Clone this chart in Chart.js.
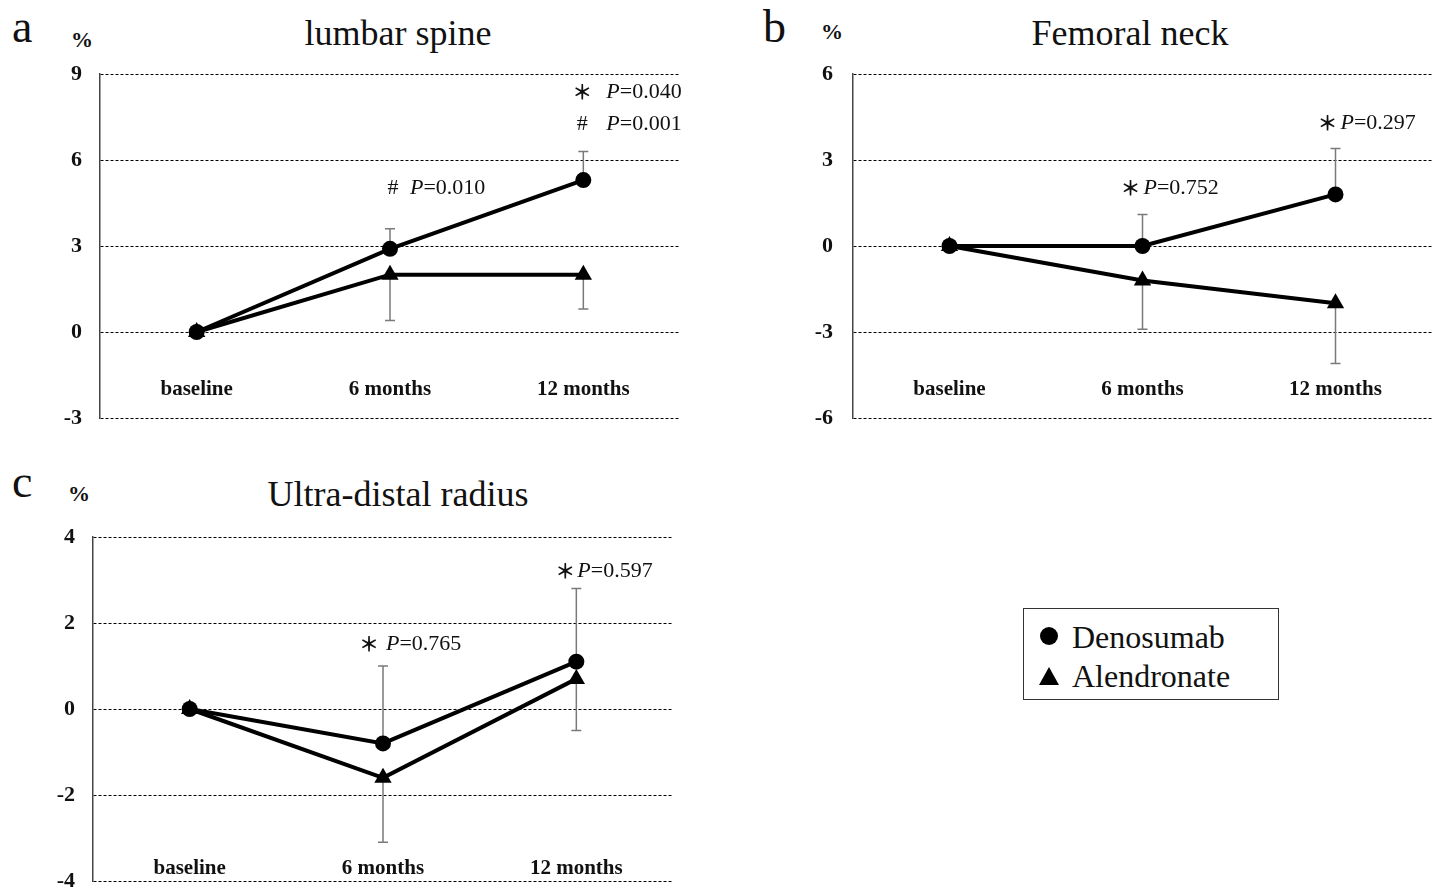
<!DOCTYPE html>
<html>
<head>
<meta charset="utf-8">
<script src="https://cdn.jsdelivr.net/npm/chart.js@4.4.1/dist/chart.umd.min.js"></script>
<style>
body { margin: 0; background: #fff; width: 1436px; height: 890px; position: relative; overflow: hidden;
  font-family: 'Times New Roman', 'Liberation Serif', serif; color: #111; }
canvas { position: absolute; }
.t { position: absolute; white-space: nowrap; line-height: 1; }
.letter { font-size: 46px; }
.pct { font-size: 22px; font-weight: bold; }
.title { font-size: 36px; text-align: center; width: 400px; }
#legend { position: absolute; left: 1023px; top: 608px; width: 256px; height: 92px; box-sizing: border-box;
  border: 1px solid #333; }
.dot { position: absolute; left: 16px; top: 18px; width: 18px; height: 18px; border-radius: 50%; background: #000; }
.tri { position: absolute; left: 15px; top: 58px; width: 0; height: 0; border-left: 10px solid transparent;
  border-right: 10px solid transparent; border-bottom: 18px solid #000; }
.lg { position: absolute; left: 48px; font-size: 32px; line-height: 1; }
</style>
</head>
<body>

<div class="t letter" style="left:12px;top:4px">a</div>
<div class="t pct" style="left:71px;top:29px">%</div>
<div class="t title" style="left:198px;top:15px">lumbar spine</div>

<div class="t letter" style="left:763px;top:4px">b</div>
<div class="t pct" style="left:821px;top:21px">%</div>
<div class="t title" style="left:930px;top:15px">Femoral neck</div>

<div class="t letter" style="left:12px;top:459px">c</div>
<div class="t pct" style="left:68px;top:483px">%</div>
<div class="t title" style="left:198px;top:476px">Ultra-distal radius</div>

<canvas id="chartA" width="700" height="440" style="left:0;top:0"></canvas>
<canvas id="chartB" width="716" height="440" style="left:720px;top:0"></canvas>
<canvas id="chartC" width="700" height="430" style="left:0;top:460px"></canvas>

<div id="legend">
  <div class="dot"></div><div class="lg" style="top:12px">Denosumab</div>
  <div class="tri"></div><div class="lg" style="top:51px">Alendronate</div>
</div>

<script>
const categories = ['baseline', '6 months', '12 months'];

// lumbar spine
const spineDeno = [0, 2.9, 5.3];
const spineAlen = [0, 2.0, 2.0];
const spineDenoUp = [null, 3.6, 6.3];
const spineAlenDown = [null, 0.4, 0.8];
const spineTicks = { min: -3, max: 9, step: 3 };

// femoral neck
const neckDeno = [0, 0, 1.8];
const neckAlen = [0, -1.2, -2.0];
const neckDenoUp = [null, 1.1, 3.4];
const neckAlenDown = [null, -2.9, -4.1];
const neckTicks = { min: -6, max: 6, step: 3 };

// ultra-distal radius
const radiusDeno = [0, -0.8, 1.1];
const radiusAlen = [0, -1.6, 0.7];
const radiusDenoUp = [null, 1.0, 2.8];
const radiusAlenDown = [null, -3.1, -0.5];
const radiusTicks = { min: -4, max: 4, step: 2 };

// p-value notes: category index, y value, symbol, value text
const spineNotes = [
  { cat: 2, y: 8.37, sym: '＊', p: '=0.040', symDx: -1, pDx: 23 },
  { cat: 2, y: 7.26, sym: '#', p: '=0.001', symDx: -1, pDx: 23 },
  { cat: 1, y: 5.02, sym: '#', p: '=0.010', symDx: 3, pDx: 20 }
];
const neckNotes = [
  { cat: 1, y: 2.02, sym: '＊', p: '=0.752', symDx: -12, pDx: 1 },
  { cat: 2, y: 4.29, sym: '＊', p: '=0.297', symDx: -8, pDx: 5 }
];
const radiusNotes = [
  { cat: 1, y: 1.51, sym: '＊', p: '=0.765', symDx: -14, pDx: 3 },
  { cat: 2, y: 3.21, sym: '＊', p: '=0.597', symDx: -11, pDx: 1 }
];

const serif = "'Times New Roman', 'Liberation Serif', serif";
Chart.defaults.font.family = serif;
Chart.defaults.color = '#111';

function makeChart(id, deno, alen, denoUp, alenDown, ticks, notes, box) {
  const errorBars = {
    id: 'errorBars',
    beforeDatasetsDraw(chart) {
      const { ctx, scales: { x, y } } = chart;
      ctx.save();
      ctx.strokeStyle = '#7a7a7a';
      ctx.lineWidth = 1.5;
      [[deno, denoUp], [alen, alenDown]].forEach(([from, ends]) => {
        ends.forEach((end, i) => {
          if (end === null) return;
          const px = x.getPixelForValue(i);
          const y0 = y.getPixelForValue(from[i]);
          const y1 = y.getPixelForValue(end);
          ctx.beginPath();
          ctx.moveTo(px, y0);
          ctx.lineTo(px, y1);
          ctx.moveTo(px - 5, y1);
          ctx.lineTo(px + 5, y1);
          ctx.stroke();
        });
      });
      ctx.restore();
    }
  };

  const pNotes = {
    id: 'pNotes',
    afterDatasetsDraw(chart) {
      const { ctx, scales: { x, y } } = chart;
      ctx.save();
      ctx.fillStyle = '#111';
      ctx.textBaseline = 'middle';
      notes.forEach(n => {
        const px = x.getPixelForValue(n.cat);
        const py = y.getPixelForValue(n.y);
        ctx.textAlign = 'center';
        ctx.font = n.sym === '#' ? '22px ' + serif : "bold 20px 'Noto Sans CJK JP', sans-serif";
        ctx.fillText(n.sym, px + n.symDx, py);
        ctx.textAlign = 'left';
        ctx.font = 'italic 22px ' + serif;
        ctx.fillText('P', px + n.pDx, py);
        const w = ctx.measureText('P').width;
        ctx.font = '22px ' + serif;
        ctx.fillText(n.p, px + n.pDx + w, py);
      });
      ctx.restore();
    }
  };

  return new Chart(document.getElementById(id), {
    type: 'line',
    data: {
      labels: categories,
      datasets: [{
        label: 'Denosumab',
        data: deno,
        borderColor: '#000',
        backgroundColor: '#000',
        borderWidth: 4,
        pointStyle: 'circle',
        pointRadius: 8,
        pointBorderWidth: 0,
        tension: 0
      }, {
        label: 'Alendronate',
        data: alen,
        borderColor: '#000',
        backgroundColor: '#000',
        borderWidth: 4,
        pointStyle: 'triangle',
        pointRadius: 10,
        pointBorderWidth: 0,
        tension: 0
      }]
    },
    options: {
      responsive: false,
      animation: false,
      layout: { padding: box.pad, autoPadding: false },
      plugins: { legend: { display: false }, tooltip: { enabled: false } },
      scales: {
        x: {
          // category labels sit inside the plot, so hang the axis on a y value
          position: { y: box.xAt },
          offset: true,
          grid: { display: false, drawTicks: false },
          border: { display: false },
          ticks: { padding: 0, font: { size: 21, weight: 'bold' }, maxRotation: 0 },
          afterFit(scale) { scale.height = 0; scale.paddingLeft = 0; scale.paddingRight = 0; }
        },
        y: {
          min: ticks.min,
          max: ticks.max,
          ticks: { stepSize: ticks.step, padding: box.yPad, font: { size: 22, weight: 'bold' } },
          grid: { color: '#000', lineWidth: 1, drawTicks: false },
          border: { display: true, color: '#444', width: 1.5, dash: [3, 2] },
          afterFit(scale) { scale.width = box.yWidth; scale.paddingTop = 0; scale.paddingBottom = 0; }
        }
      }
    },
    plugins: [errorBars, pNotes]
  });
}

makeChart('chartA', spineDeno, spineAlen, spineDenoUp, spineAlenDown, spineTicks, spineNotes,
  { pad: { top: 74, right: 20, bottom: 22, left: 0 }, yWidth: 100, yPad: 18, xAt: -1.58 });
makeChart('chartB', neckDeno, neckAlen, neckDenoUp, neckAlenDown, neckTicks, neckNotes,
  { pad: { top: 74, right: 4, bottom: 22, left: 0 }, yWidth: 133, yPad: 20, xAt: -4.58 });
makeChart('chartC', radiusDeno, radiusAlen, radiusDenoUp, radiusAlenDown, radiusTicks, radiusNotes,
  { pad: { top: 77, right: 27, bottom: 9, left: 0 }, yWidth: 93, yPad: 18, xAt: -3.41 });
</script>
</body>
</html>
